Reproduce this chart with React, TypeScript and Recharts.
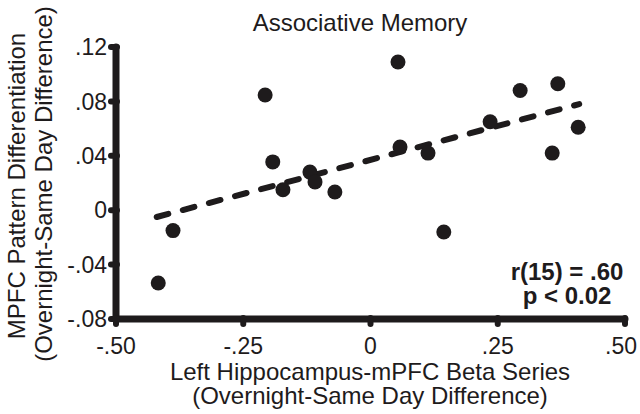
import React from "react";
import { ScatterChart, Scatter, XAxis, YAxis, ReferenceLine } from "recharts";

const xValues = [-0.417, -0.388, -0.207, -0.192, -0.172, -0.119, -0.109, -0.07, 0.054, 0.058, 0.113, 0.144, 0.235, 0.294, 0.357, 0.368, 0.408];
const yValues = [-0.0535, -0.015, 0.0847, 0.0355, 0.015, 0.028, 0.0208, 0.0134, 0.109, 0.0465, 0.042, -0.016, 0.065, 0.088, 0.042, 0.093, 0.061];
const fitX = [-0.42, 0.41];
const fitY = [-0.005, 0.078];
const xDomain = [-0.5, 0.5];
const yDomain = [-0.08, 0.12];
const xTicks = [-0.5, -0.25, 0, 0.25, 0.5];
const xTickLabels = ["-.50", "-.25", "0", ".25", ".50"];
const yTicks = [-0.08, -0.04, 0, 0.04, 0.08, 0.12];
const yTickLabels = ["-.08", "-.04", "0", ".04", ".08", ".12"];

const title = "Associative Memory";
const xLabelLines = ["Left Hippocampus-mPFC Beta Series", "(Overnight-Same Day Difference)"];
const yLabelLines = ["MPFC Pattern Differentiation", "(Overnight-Same Day Difference)"];
const statLines = ["r(15) = .60", "p < 0.02"];

const points = xValues.map((x, i) => ({ x, y: yValues[i] }));

const INK = "#1e1b1c";
const FONT = "'Liberation Sans', Arial, Helvetica, sans-serif";
const TICK_SIZE = 6;
const X_TICK_MARGIN = 13;
const Y_TICK_MARGIN = 3;
const AXIS_W = 7;

const Dot = (p: any) => <circle cx={p.cx} cy={p.cy} r={7.5} fill={INK} />;

const XTick = (p: any) => {
  const v = p.payload.value;
  const i = xTicks.findIndex((t) => Math.abs(t - v) < 1e-9);
  const last = i === xTicks.length - 1;
  const y2 = p.y - X_TICK_MARGIN - 1;
  const y1 = y2 - TICK_SIZE;
  return (
    <g>
      <line x1={p.x} x2={p.x} y1={y1} y2={y2} stroke={INK} strokeWidth={6} strokeLinecap="round" />
      <text x={p.x - (last ? 4 : 0)} y={p.y} dy="0.71em" textAnchor="middle" fill={INK} fontSize={23} fontFamily={FONT}>
        {i >= 0 ? xTickLabels[i] : String(v)}
      </text>
    </g>
  );
};

const YTick = (p: any) => {
  const v = p.payload.value;
  const i = yTicks.findIndex((t) => Math.abs(t - v) < 1e-9);
  const x2 = p.x + Y_TICK_MARGIN + 1;
  const x1 = x2 + TICK_SIZE;
  return (
    <g>
      <line x1={x1} x2={x2} y1={p.y} y2={p.y} stroke={INK} strokeWidth={6} strokeLinecap="round" />
      <text x={p.x} y={p.y} dy="0.355em" textAnchor="end" fill={INK} fontSize={23} fontFamily={FONT}>
        {i >= 0 ? yTickLabels[i] : String(v)}
      </text>
    </g>
  );
};

export default function App() {
  return (
    <div style={{ position: "absolute", left: 0, top: 0, width: 640, height: 414, background: "#fff" }}>
      <ScatterChart width={640} height={414} margin={{ top: 47, right: 15, bottom: 55, left: 56 }}>
        <XAxis
          type="number"
          dataKey="x"
          domain={xDomain}
          ticks={xTicks}
          height={40}
          axisLine={{ stroke: INK, strokeWidth: AXIS_W, strokeLinecap: "round" }}
          tickLine={false}
          tickSize={TICK_SIZE}
          tickMargin={X_TICK_MARGIN}
          tick={XTick}
          allowDataOverflow
        />
        <YAxis
          type="number"
          dataKey="y"
          domain={yDomain}
          ticks={yTicks}
          width={60}
          axisLine={{ stroke: INK, strokeWidth: AXIS_W, strokeLinecap: "round" }}
          tickLine={false}
          tickSize={TICK_SIZE}
          tickMargin={Y_TICK_MARGIN}
          tick={YTick}
          allowDataOverflow
        />
        <Scatter data={points} shape={Dot} isAnimationActive={false} />
        <ReferenceLine
          segment={[
            { x: fitX[0], y: fitY[0] },
            { x: fitX[1], y: fitY[1] },
          ]}
          stroke={INK}
          strokeWidth={6}
          strokeDasharray="12 15"
          strokeLinecap="round"
        />
      </ScatterChart>
      <svg
        width={640}
        height={414}
        style={{ position: "absolute", left: 0, top: 0, pointerEvents: "none" }}
        fontFamily={FONT}
        fill={INK}
      >
        <text x={360} y={31} fontSize={24} textAnchor="middle">{title}</text>
        <text x={370} y={380} fontSize={24} textAnchor="middle">{xLabelLines[0]}</text>
        <text x={370} y={404} fontSize={24} textAnchor="middle">{xLabelLines[1]}</text>
        <text x={25} y={186} fontSize={24} textAnchor="middle" transform="rotate(-90 25 186)">{yLabelLines[0]}</text>
        <text x={52} y={184} fontSize={24} textAnchor="middle" transform="rotate(-90 52 184)">{yLabelLines[1]}</text>
        <text x={567} y={280} fontSize={24} fontWeight="bold" textAnchor="middle">{statLines[0]}</text>
        <text x={567} y={304} fontSize={24} fontWeight="bold" textAnchor="middle">{statLines[1]}</text>
      </svg>
    </div>
  );
}
